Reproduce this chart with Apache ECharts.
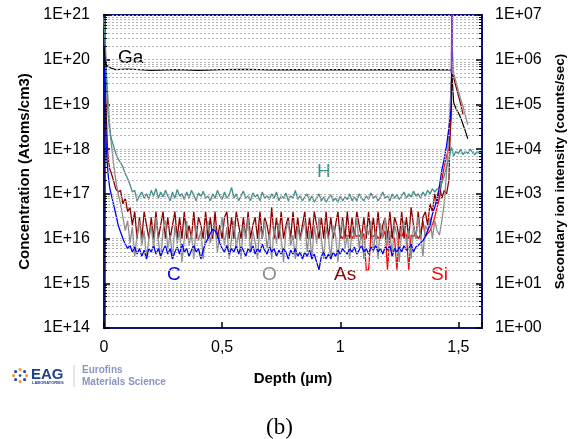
<!DOCTYPE html>
<html>
<head>
<meta charset="utf-8">
<script src="https://cdn.jsdelivr.net/npm/echarts@6/dist/echarts.min.js"></script>
<style>html,body{margin:0;padding:0;background:#fff}#c{width:575px;height:439px}</style>
</head>
<body>
<div id="c"></div>
<script>
// Depth axis (µm), shared by H, C, O, As (and offsets for Si / matrix spike)
const depth = [
0,0.005,0.01,0.015,0.02,0.025,0.03,0.04,
0.05,0.06,0.07,0.08,0.09,0.1,0.11,0.12,0.13,0.14,
0.15,0.16,0.17,0.18,0.19,0.2,0.21,0.22,0.23,0.24,
0.25,0.26,0.27,0.28,0.29,0.3,0.31,0.32,0.33,0.34,
0.35,0.36,0.37,0.38,0.39,0.4,0.41,0.42,0.43,0.44,
0.45,0.46,0.47,0.48,0.49,0.5,0.51,0.52,0.53,0.54,
0.55,0.56,0.57,0.58,0.59,0.6,0.61,0.62,0.63,0.64,
0.65,0.66,0.67,0.68,0.69,0.7,0.71,0.72,0.73,0.74,
0.75,0.76,0.77,0.78,0.79,0.8,0.81,0.82,0.83,0.84,
0.85,0.86,0.87,0.88,0.89,0.9,0.91,0.92,0.93,0.94,
0.95,0.96,0.97,0.98,0.99,1,1.01,1.02,1.03,1.04,
1.05,1.06,1.07,1.08,1.09,1.1,1.11,1.12,1.13,1.14,
1.15,1.16,1.17,1.18,1.19,1.2,1.21,1.22,1.23,1.24,
1.25,1.26,1.27,1.28,1.29,1.3,1.31,1.32,1.33,1.34,
1.35,1.36,1.37,1.38,1.39,1.4,1.41,1.42,1.43,1.44,
1.45,1.46,1.47,1.475,
1.48,1.49,1.5,1.51,1.52,1.53,1.54,1.55,1.56,1.57,1.58,1.59,1.6];

// Ga (matrix) concentration, atoms/cm3
const gaDepth = [0,0.005,0.01,0.02,0.03,0.05,0.1,0.2,0.3,0.4,0.5,0.6,0.7,0.8,0.9,1,1.1,1.2,1.3,1.4,1.47,1.475,1.48,1.49,1.5,1.51,1.52,1.53,1.54];
const gaValues = [2e20,9e19,7.5e19,7e19,6.5e19,6e19,6.2e19,5.8e19,6e19,5.8e19,6e19,6.1e19,5.9e19,6e19,5.9e19,6e19,5.9e19,6e19,5.9e19,6e19,5.9e19,3e19,1.1e19,8e18,6.5e18,5e18,3.5e18,2.5e18,1.7e18];

const hValues = [
8e20,2e20,4e19,1e19,4e18,2.5e18,1.8e18,1.2e18,
8e17,6e17,5e17,4e17,2.8e17,2.2e17,1.6e17,1.1e17,1.2e17,7e16,
9e16,1.1e17,8e16,1e17,7.5e16,1.2e17,9e16,1.3e17,8e16,1.1e17,
8.5e16,1.2e17,9e16,7e16,1.1e17,8e16,1.25e17,9e16,1e17,7.5e16,
1.1e17,8e16,1.2e17,9.5e16,7e16,1.05e17,8.5e16,1.15e17,8e16,9e16,
7e16,1e17,8e16,1.2e17,9e16,7.5e16,1.1e17,8e16,9.5e16,1.4e17,
8e16,1e17,7e16,9e16,1.15e17,8e16,9e16,7e16,1.05e17,8.5e16,
9.5e16,7e16,1.1e17,8e16,9e16,7.5e16,1e17,8e16,1.1e17,7e16,
9e16,8e16,1.05e17,7e16,9e16,8e16,1.2e17,7.5e16,9e16,7e16,
8.5e16,1e17,7e16,9e16,6.5e16,8e16,1e17,7e16,8.5e16,6.5e16,
8e16,9.5e16,7e16,8e16,6.5e16,9e16,7e16,8.5e16,7.5e16,1e17,
7e16,8.5e16,7e16,1e17,8e16,7e16,9e16,7.5e16,1.05e17,8e16,
9e16,7e16,8.5e16,1.1e17,8e16,9e16,7e16,1e17,8e16,9.5e16,
7.5e16,9e16,1.1e17,8e16,1e17,8.5e16,1.15e17,9e16,1e17,8e16,
1.1e17,9e16,1.2e17,1e17,1.3e17,1.1e17,1.3e17,1.2e17,1.8e17,2.5e17,
4e17,6e17,1.1e18,9e17,
7e17,9e17,8e17,1e18,7.5e17,9e17,8e17,1e18,8.5e17,7.5e17,9e17,8e17,9.5e17];

const cValues = [
5e20,1e19,1e18,4e17,2e17,1.3e17,1e17,6e16,
3.5e16,2e16,1.4e16,1e16,7.5e15,6e15,7e15,5e15,6.5e15,4.5e15,
6e15,4e15,5.5e15,3.5e15,6e15,5e15,7e15,4.5e15,6e15,4e15,
5.5e15,7e15,4.5e15,6e15,3.5e15,5e15,6.5e15,4.5e15,7.5e15,5e15,
6e15,4e15,5.5e15,7e15,5e15,6e15,3.5e15,5.5e15,8e15,1e16,
1.3e16,1.6e16,1.5e16,1.2e16,8e15,6e15,5e15,7e15,4.5e15,6e15,
5e15,7e15,4.5e15,6.5e15,5.5e15,4e15,6e15,5e15,7e15,4.5e15,
6e15,5e15,7.5e15,5.5e15,4.5e15,6.5e15,5e15,6e15,4e15,5.5e15,
4.5e15,6e15,5e15,3.5e15,5.5e15,4.5e15,6e15,4e15,5e15,3.5e15,
5e15,4e15,5.5e15,3.5e15,4.5e15,3e15,2e15,4e15,5e15,3.5e15,
4.5e15,3.5e15,5e15,4e15,5.5e15,4.5e15,6e15,5e15,4.5e15,6e15,
5e15,6.5e15,4.5e15,5.5e15,7e15,5e15,6e15,4.5e15,6.5e15,5.5e15,
7e15,5e15,6e15,4.5e15,6.5e15,5.5e15,7e15,4e15,6e15,5e15,
6.5e15,5e15,7e15,5.5e15,6e15,7.5e15,5e15,6.5e15,7e15,8e15,
9e15,1.1e16,1.5e16,2e16,3.5e16,5e16,8e16,1.5e17,3.4e17,6e17,
1.2e18,3e18,8e18,1e22];

const oValues = [
9e20,3e20,6e19,2e19,7e18,3e18,1.5e18,5e17,
2e17,1e17,6e16,3e16,1.5e16,2.5e16,8e15,1.8e16,4e15,1.2e16,
2.5e16,7e15,1.5e16,3.5e15,1e16,2e16,6e15,3e16,9e15,3.5e15,
1.5e16,2.5e16,6e15,1.2e16,3.5e15,2e16,8e15,1.5e16,3e15,1e16,
2.5e16,7e15,1.3e16,3.5e15,2e16,9e15,1.5e16,3.5e15,1.2e16,2.5e16,
8e15,1.5e16,2e16,5e15,1.2e16,3e16,7e15,1.8e16,3.5e15,1e16,
2.5e16,6e15,1.4e16,3.5e15,2e16,1e16,3e16,5e15,1.5e16,8e15,
3.5e15,2e16,1e16,2.5e16,6e15,1.3e16,3.5e15,1.8e16,8e15,2.2e16,
1e16,3e15,1.5e16,2.5e16,7e15,1.2e16,3.5e15,2e16,9e15,1.5e16,
2.5e16,5e15,1.5e16,3.5e15,2e16,8e15,3e16,1e16,3.5e15,1.8e16,
1e16,3.5e15,2e16,1.2e16,3e15,1.5e16,2.5e16,6e15,1.2e16,3.5e15,
1.8e16,1e16,3e16,6e15,1.5e16,3.5e15,2e16,1.2e16,2.5e16,5e15,
1.5e16,3.5e15,2.2e16,1e16,3e16,7e15,1.5e16,4e15,2e16,1.2e16,
3e15,1.8e16,2.5e16,8e15,1.5e16,3.5e15,2e16,1e16,3e16,1.2e16,
4e15,2e16,1.5e16,3e16,1e16,2.5e16,1.5e16,1.2e16,2.5e16,6e16,
3e17,3e18,3e19,1.5e20,
5e19,3.2e19,2e19,1.3e19,9e18,5.5e18,3.5e18];

const asValues = [
5e20,5e19,5e18,1e18,5e17,3.5e17,3e17,2e17,
1.3e17,1.1e17,1.2e17,6e16,8e16,4e16,5e16,2e16,4e16,1e16,
3e16,1e16,4e16,2e16,1e16,3e16,1e16,4e16,1e16,2e16,
4e16,1e16,3e16,1e16,2e16,4e16,1e16,3e16,1e16,4e16,
1e16,2e16,1e16,4e16,1e16,3e16,2e16,1e16,4e16,1e16,
3e16,1e16,4e16,1e16,2e16,1e16,3e16,4e16,1e16,3e16,
1e16,4e16,2e16,1e16,3e16,1e16,4e16,1e16,2e16,3e16,
1e16,4e16,1e16,3e16,2e16,1e16,5e16,1e16,3e16,1e16,
4e16,1e16,2e16,3e16,1e16,4e16,1e16,3e16,1e16,2e16,
4e16,1e16,3e16,1e16,4e16,2e16,1e16,3e16,1e16,4e16,
1e16,3e16,1e16,2e16,4e16,1e16,3e16,1e16,4e16,1e16,
3e16,1e16,4e16,2e16,1e16,3e16,1e16,4e16,1e16,3e16,
1e16,4e16,1e16,2e16,3e16,1e16,4e16,1e16,3e16,2e16,
1e16,4e16,1e16,3e16,1e16,5e16,2e16,1e16,4e16,1e16,
3e16,4e16,2e16,6e16,4e16,1e17,6e16,1.5e17,8e16,1.2e17,
1e17,2e17,3e19,5e19,
4e19,2.5e19,1.6e19,1e19,6e18];

// Si from depth = 1 µm onward
const siStartDepth = 1;
const siValues = [
1.2e16,1e16,1.3e16,1.1e16,1.2e16,1e16,1.3e16,1.1e16,1.2e16,1e16,
1.3e16,2e15,2e15,1.2e16,1.1e16,1.3e16,1e16,1.2e16,1.1e16,1.5e16,
2e15,1.2e16,1.1e16,1e16,2e15,1.3e16,1.1e16,1.5e16,1.2e16,2e15,
1.2e16,1.1e16,1.3e16,1e16,1.2e16,2.5e16,1.1e16,1.3e16,1.5e16,2e16,
3e16,5e16,8e16,2e17,4e17,7e17,1e18,5e18,1e22];

// matrix spike (purple trace) from depth = 1.47 µm
const spikeStartDepth = 1.47;
const spikeValues = [5e19,1e22];

const yTicksLeft = [1e14,1e15,1e16,1e17,1e18,1e19,1e20,1e21];
const yTicksRight = [1,10,100,1e3,1e4,1e5,1e6,1e7];

function pairs(values, offset) {
  return values.map((v, i) => [depth[offset + i], v]);
}
const FONT = '"Liberation Sans", Arial, sans-serif';
const minorLines = [];
for (let e = 14; e < 21; e++) for (let m = 2; m <= 9; m++) minorLines.push({ yAxis: m * Math.pow(10, e) });
// short inner tick segments at minor positions on both vertical axes
const minorTicks = [];
minorLines.forEach(o => {
  minorTicks.push([{ coord: [0, o.yAxis] }, { coord: [0.013, o.yAxis] }]);
  minorTicks.push([{ coord: [1.587, o.yAxis] }, { coord: [1.6, o.yAxis] }]);
});

function expLabel(v) {
  const e = Math.round(Math.log10(v));
  return '1E+' + (e < 10 ? '0' : '') + e;
}
function line(name, color, data, width) {
  return { name, type: 'line', data, showSymbol: false, symbol: 'none', clip: true, z: 3,
    lineStyle: { color, width: width || 1.3 }, itemStyle: { color }, silent: true };
}

const chart = echarts.init(document.getElementById('c'), null, { renderer: 'canvas' });
chart.setOption({
  animation: false,
  backgroundColor: '#fff',
  grid: { left: 104, right: 90, top: 15, bottom: 111, show: true, borderColor: '#101070', borderWidth: 2 },
  xAxis: {
    type: 'value', min: 0, max: 1.6, interval: 0.5,
    axisLine: { show: true, onZero: false, lineStyle: { color: '#101070', width: 2 } },
    axisTick: { show: true, inside: true, length: 6, lineStyle: { color: '#000', width: 1.5 } },
    axisLabel: { fontSize: 16, color: '#000', margin: 12, fontFamily: FONT,
      formatter: v => (Math.abs(v * 2 - Math.round(v * 2)) < 1e-6 ? String(v).replace('.', ',') : '') },
    splitLine: { show: false },
    name: 'Depth (µm)', nameLocation: 'middle', nameGap: 43,
    nameTextStyle: { fontWeight: 'bold', fontSize: 15, color: '#000', fontFamily: FONT }
  },
  yAxis: [{
    type: 'log', logBase: 10, min: yTicksLeft[0], max: yTicksLeft[yTicksLeft.length - 1], splitNumber: 7,
    axisLine: { show: true, lineStyle: { color: '#101070', width: 2.5 } },
    axisTick: { show: true, inside: true, length: 6, lineStyle: { color: '#000', width: 1.5 } },
    axisLabel: { fontSize: 16, color: '#000', margin: 14, fontFamily: FONT, formatter: expLabel },
    splitLine: { show: true, lineStyle: { color: '#b4b4b4', type: [2, 2], width: 1 } },
    name: 'Concentration (Atoms/cm3)', nameLocation: 'middle', nameGap: 66, nameRotate: 90,
    nameTextStyle: { fontWeight: 'bold', fontSize: 15, color: '#000', fontFamily: FONT }
  }, {
    type: 'log', logBase: 10, min: yTicksRight[0], max: yTicksRight[yTicksRight.length - 1], splitNumber: 7,
    position: 'right',
    axisLine: { show: true, lineStyle: { color: '#101070', width: 2 } },
    axisTick: { show: true, inside: true, length: 6, lineStyle: { color: '#000', width: 1.5 } },
    axisLabel: { fontSize: 16, color: '#000', margin: 13, fontFamily: FONT, formatter: expLabel },
    splitLine: { show: false },
    name: 'Secondary ion intensity (counts/sec)', nameLocation: 'middle', nameGap: 71, nameRotate: 90,
    nameTextStyle: { fontWeight: 'bold', fontSize: 13.5, color: '#000', fontFamily: FONT }
  }],
  series: [
    { name: 'grid', type: 'line', data: [], z: 1, silent: true,
      markLine: { silent: true, symbol: ['none', 'none'], label: { show: false }, animation: false,
        lineStyle: { color: '#b4b4b4', type: [2, 2], width: 1 }, data: minorLines } },
    { name: 'ticks', type: 'line', data: [], z: 5, silent: true,
      markLine: { silent: true, symbol: ['none', 'none'], label: { show: false }, animation: false,
        lineStyle: { color: '#000', type: 'solid', width: 1 }, data: minorTicks } },
    line('Si', '#ff0000', pairs(siValues, depth.indexOf(siStartDepth))),
    line('As', '#8b0000', pairs(asValues, 0)),
    line('O', '#8c8c8c', pairs(oValues, 0)),
    line('C', '#0000ff', pairs(cValues, 0)),
    line('H', '#3f8f8c', pairs(hValues, 0)),
    line('Ga', '#000000', gaValues.map((v, i) => [gaDepth[i], v]), 1.2),
    line('matrix', '#9933cc', pairs(spikeValues, depth.indexOf(spikeStartDepth)), 1.5)
  ],
  graphic: [
    { type: 'text', left: 118, top: 48, style: { text: 'Ga', font: '19px ' + FONT, fill: '#000' } },
    { type: 'text', left: 317, top: 162, style: { text: 'H', font: '19px ' + FONT, fill: '#3f8f8c' } },
    { type: 'text', left: 167, top: 265, style: { text: 'C', font: '19px ' + FONT, fill: '#0000ff' } },
    { type: 'text', left: 262, top: 265, style: { text: 'O', font: '19px ' + FONT, fill: '#8c8c8c' } },
    { type: 'text', left: 334, top: 265, style: { text: 'As', font: '19px ' + FONT, fill: '#8b0000' } },
    { type: 'text', left: 431, top: 265, style: { text: 'Si', font: '19px ' + FONT, fill: '#ff0000' } },
    { type: 'text', left: 266, top: 416, style: { text: '(b)', font: '23px "Liberation Serif", "Times New Roman", serif', fill: '#000' } },
    // logo
    { type: 'group', left: 12, top: 368, children: [
      { type: 'circle', shape: { cx: 8, cy: 1.5, r: 1.6 }, style: { fill: '#f0a030' } },
      { type: 'circle', shape: { cx: 12.5, cy: 3.5, r: 1.6 }, style: { fill: '#2a4fa0' } },
      { type: 'circle', shape: { cx: 14.5, cy: 7.5, r: 1.6 }, style: { fill: '#f0a030' } },
      { type: 'circle', shape: { cx: 12.5, cy: 11.5, r: 1.6 }, style: { fill: '#2a4fa0' } },
      { type: 'circle', shape: { cx: 8, cy: 13.5, r: 1.6 }, style: { fill: '#f0a030' } },
      { type: 'circle', shape: { cx: 3.5, cy: 11.5, r: 1.6 }, style: { fill: '#2a4fa0' } },
      { type: 'circle', shape: { cx: 1.5, cy: 7.5, r: 1.6 }, style: { fill: '#f0a030' } },
      { type: 'circle', shape: { cx: 3.5, cy: 3.5, r: 1.6 }, style: { fill: '#2a4fa0' } },
      { type: 'circle', shape: { cx: 8, cy: 7.5, r: 1.4 }, style: { fill: '#2a4fa0' } }
    ] },
    { type: 'text', left: 31, top: 367, style: { text: 'EAG', font: 'bold 15px ' + FONT, fill: '#1f3f8f' } },
    { type: 'text', left: 32, top: 381, style: { text: 'LABORATORIES', font: 'bold 4px ' + FONT, fill: '#1f3f8f' } },
    { type: 'line', shape: { x1: 74, y1: 365, x2: 74, y2: 387 }, style: { stroke: '#c8c8d8', lineWidth: 1 } },
    { type: 'text', left: 82, top: 365, style: { text: 'Eurofins', font: 'bold 10px ' + FONT, fill: '#8a93c6' } },
    { type: 'text', left: 82, top: 377, style: { text: 'Materials Science', font: 'bold 10px ' + FONT, fill: '#8a93c6' } }
  ]
});
</script>
</body>
</html>
